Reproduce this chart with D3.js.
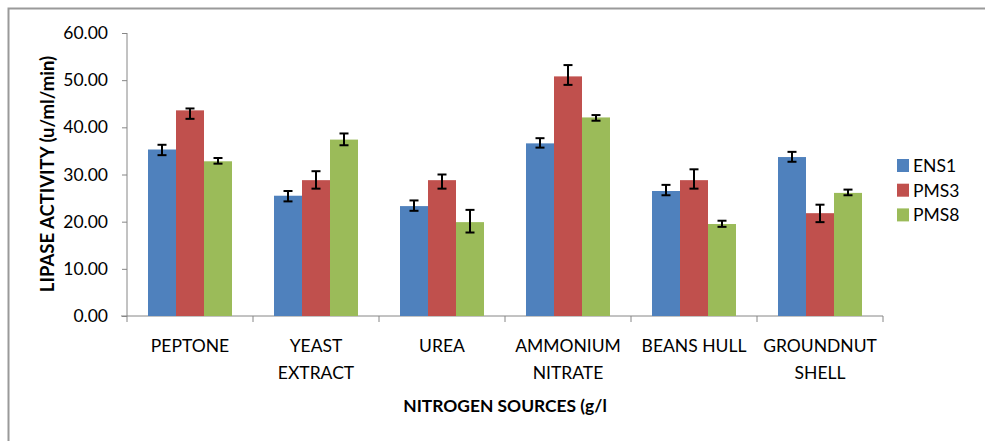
<!DOCTYPE html>
<html>
<head>
<meta charset="utf-8">
<script src="https://cdn.jsdelivr.net/npm/d3@7"></script>
<style>
  html, body { margin: 0; padding: 0; background: #fff; }
  svg { display: block; font-family: Lato, "Open Sans", sans-serif; }
</style>
</head>
<body>
<svg id="chart" width="985" height="441"></svg>
<script>
// categories (two-line labels)
var categories = ["PEPTONE", "YEAST EXTRACT", "UREA", "AMMONIUM NITRATE", "BEANS HULL", "GROUNDNUT SHELL"];
var categoryLines = [["PEPTONE"], ["YEAST", "EXTRACT"], ["UREA"], ["AMMONIUM", "NITRATE"], ["BEANS HULL"], ["GROUNDNUT", "SHELL"]];
var seriesNames = ["ENS1", "PMS3", "PMS8"];
var seriesColors = ["#4F81BD", "#C0504D", "#9BBB59"];

// bar values
var ens1 = [35.3, 25.5, 23.3, 36.6, 26.5, 33.7];
var pms3 = [43.6, 28.8, 28.8, 50.8, 28.8, 21.8];
var pms8 = [32.8, 37.4, 19.9, 42.1, 19.5, 26.1];

// error bar ends (low / high)
var ens1Low = [34.1, 24.3, 22.3, 35.7, 25.6, 32.7];
var ens1High = [36.3, 26.5, 24.5, 37.7, 27.8, 34.8];
var pms3Low = [41.8, 27.0, 27.0, 49.0, 27.0, 19.9];
var pms3High = [44.0, 30.7, 30.0, 53.2, 31.1, 23.6];
var pms8Low = [32.3, 36.2, 17.7, 41.4, 18.9, 25.6];
var pms8High = [33.5, 38.7, 22.5, 42.6, 20.2, 26.8];

var yTicks = [0, 10, 20, 30, 40, 50, 60];

var series = [
  { name: "ENS1", values: ens1, low: ens1Low, high: ens1High },
  { name: "PMS3", values: pms3, low: pms3Low, high: pms3High },
  { name: "PMS8", values: pms8, low: pms8Low, high: pms8High }
];

var svg = d3.select("#chart");
var axisColor = "#868686";

// outer frame
svg.append("rect")
  .attr("x", 8.5).attr("y", 8.5)
  .attr("width", 990).attr("height", 450)
  .attr("fill", "none")
  .attr("stroke", "#9a9a9a")
  .attr("stroke-width", 2);

var x = d3.scaleBand().domain(categories).range([127, 883]).paddingInner(0).paddingOuter(0);
var y = d3.scaleLinear().domain([0, 60]).range([316, 33]);

// bars are 28px wide, gap 150% of bar width
var barW = x.bandwidth() / (3 + 1.5);
var xs = d3.scaleBand().domain(seriesNames).range([barW * 0.75, barW * 3.75]).padding(0);

// y axis
var yAxis = svg.append("g")
  .attr("transform", "translate(127,0)")
  .call(d3.axisLeft(y).tickValues(yTicks).tickSize(5).tickPadding(14).tickFormat(d3.format(".2f")));
yAxis.select(".domain").attr("stroke", axisColor).attr("d", "M0," + y(60) + "V322");
yAxis.selectAll(".tick line").attr("stroke", axisColor);
yAxis.selectAll(".tick text")
  .attr("fill", "#000")
  .style("font-size", "17.5px")
  .style("font-family", "Lato, sans-serif");

// x axis
var xAxis = svg.append("g").attr("transform", "translate(0,316)");
xAxis.append("line")
  .attr("x1", 121).attr("x2", 883)
  .attr("stroke", axisColor);
xAxis.selectAll(".xtick")
  .data(categories.slice(1).concat(["end"]))
  .enter().append("line")
  .attr("class", "xtick")
  .attr("x1", function (d, i) { return x(categories[0]) + x.step() * (i + 1); })
  .attr("x2", function (d, i) { return x(categories[0]) + x.step() * (i + 1); })
  .attr("y1", 0).attr("y2", 6)
  .attr("stroke", axisColor);

// category labels
categories.forEach(function (c, i) {
  var t = svg.append("text")
    .attr("text-anchor", "middle")
    .style("font-size", "17.5px")
    .attr("fill", "#000");
  categoryLines[i].forEach(function (line, j) {
    t.append("tspan")
      .attr("x", x(c) + x.bandwidth() / 2)
      .attr("y", 352 + j * 27)
      .text(line);
  });
});

// bars
series.forEach(function (s, si) {
  var g = svg.append("g");
  g.selectAll("rect")
    .data(s.values)
    .enter().append("rect")
    .attr("x", function (d, i) { return x(categories[i]) + xs(s.name); })
    .attr("y", function (d) { return y(d); })
    .attr("width", xs.bandwidth())
    .attr("height", function (d) { return y(0) - y(d); })
    .attr("fill", seriesColors[si]);

  // error bars
  var eg = svg.append("g").attr("stroke", "#000").attr("stroke-width", 2);
  s.values.forEach(function (d, i) {
    var cx = x(categories[i]) + xs(s.name) + xs.bandwidth() / 2;
    var y1 = y(s.high[i]), y2 = y(s.low[i]);
    eg.append("line").attr("x1", cx).attr("x2", cx).attr("y1", y1).attr("y2", y2);
    eg.append("line").attr("x1", cx - 4.5).attr("x2", cx + 4.5).attr("y1", y1).attr("y2", y1);
    eg.append("line").attr("x1", cx - 4.5).attr("x2", cx + 4.5).attr("y1", y2).attr("y2", y2);
  });
});

// axis titles
svg.append("text")
  .attr("x", 505).attr("y", 412)
  .attr("text-anchor", "middle")
  .style("font-size", "17.4px")
  .style("font-weight", "bold")
  .text("NITROGEN SOURCES (g/l");

svg.append("text")
  .attr("transform", "translate(54,174) rotate(-90)")
  .attr("text-anchor", "middle")
  .style("font-size", "18.5px")
  .style("font-weight", "bold")
  .text("LIPASE ACTIVITY (u/ml/min)");

// legend
var legend = svg.append("g").attr("transform", "translate(897,159)");
seriesNames.forEach(function (n, i) {
  legend.append("rect")
    .attr("x", 0).attr("y", i * 24.7)
    .attr("width", 12).attr("height", 13)
    .attr("fill", seriesColors[i]);
  legend.append("text")
    .attr("x", 16).attr("y", i * 24.7 + 13)
    .style("font-size", "17.5px")
    .text(n);
});
</script>
</body>
</html>
